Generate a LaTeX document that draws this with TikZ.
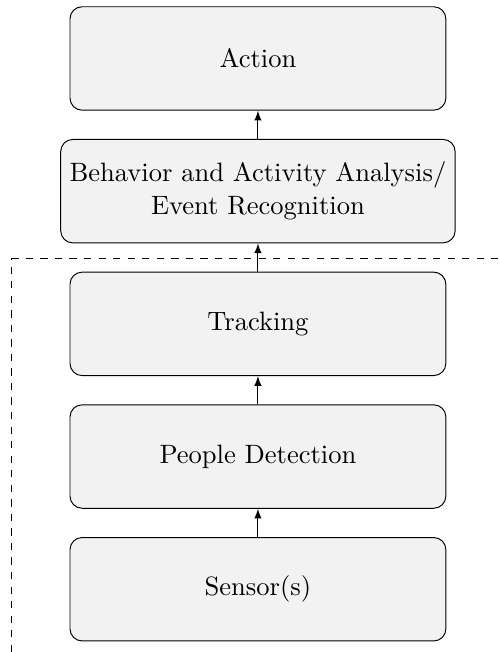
\documentclass[tikz,border=0pt,11pt]{standalone}
\usepackage{tikz}
\usetikzlibrary{arrows,positioning}

\begin{document}
\begin{tikzpicture}[->,>=latex,auto,node distance=0.41cm]
\tikzstyle{stage}=[draw=black,fill=gray!10,rounded corners=5pt,minimum width=5.45cm,minimum height=1.5cm,align=center]
\useasboundingbox (0,0) rectangle (7.25,9.454);
\node[stage] (sensor) at (3.74,0.91) {Sensor(s)};
\node[stage][above=of sensor](detect){People Detection};
\node[stage][above=of detect](track){Tracking};
\node[stage][above=of track](behavior){Behavior and Activity Analysis/\\Event Recognition};
\node[stage][above=of behavior](action){Action};
\path (sensor)edge(detect)
      (detect)edge(track)
      (track)edge(behavior)
      (behavior)edge(action);
% system boundary
\coordinate (dashbottom) at (0.17,0);
\coordinate (dashcorner) at (0.17,5.70);
\coordinate (dashright) at (7.25,5.70);
\draw[-,dashed] (dashbottom) -- (dashcorner) -- (dashright);
\end{tikzpicture}
\end{document}
